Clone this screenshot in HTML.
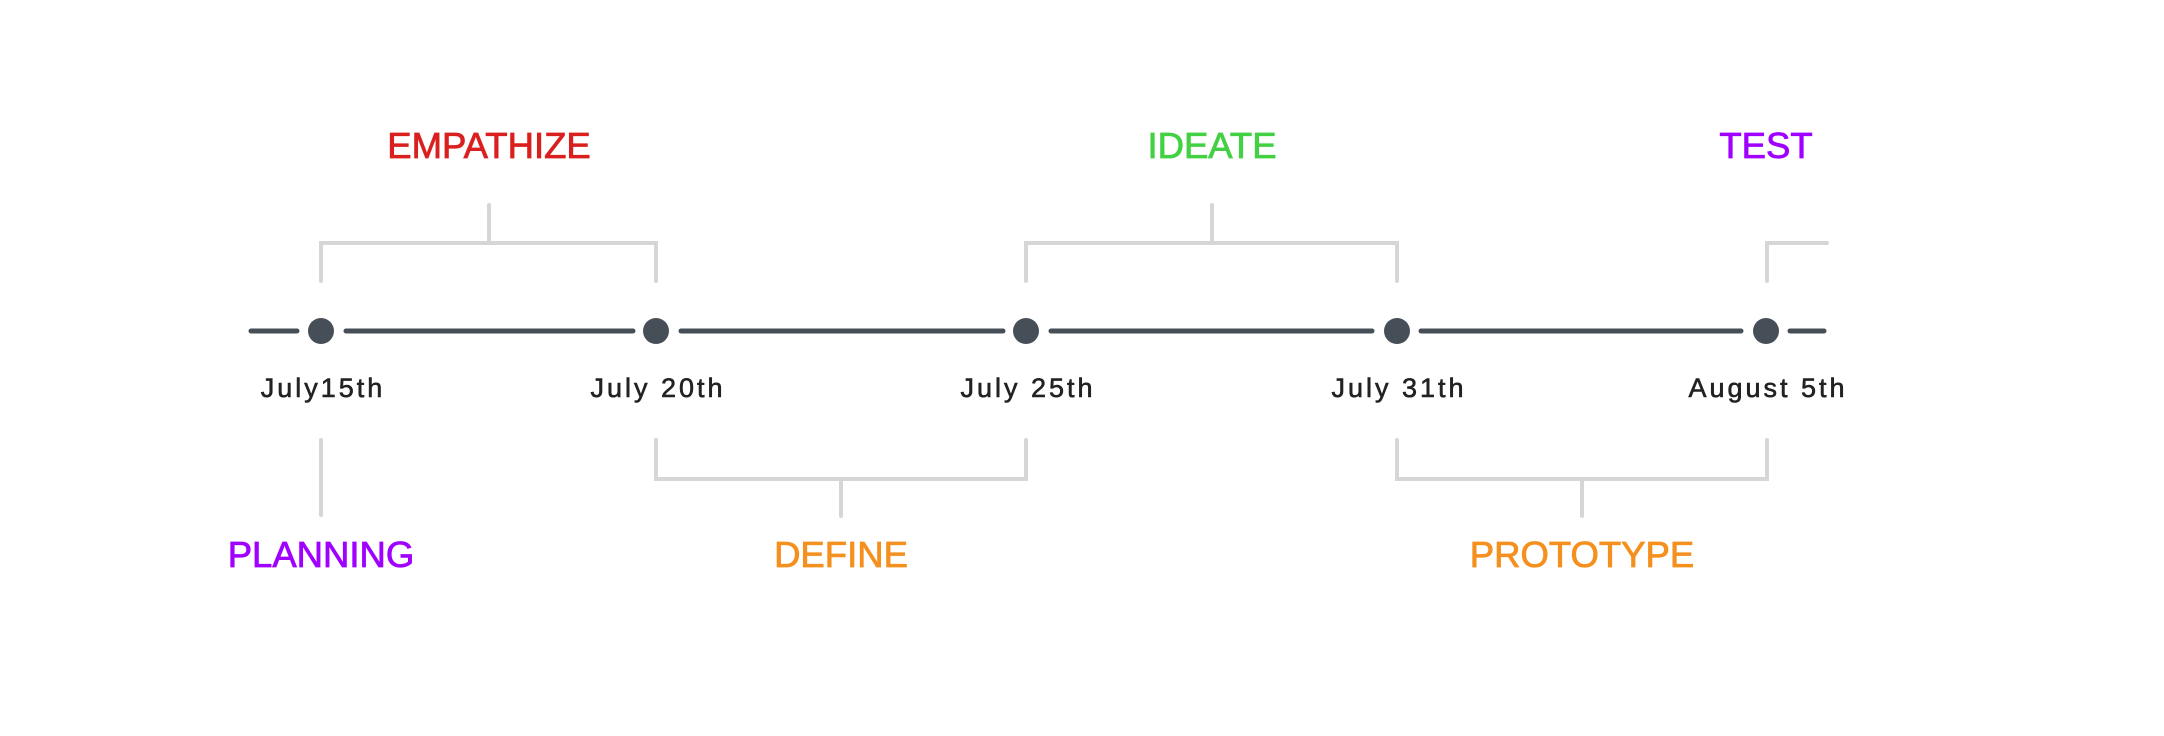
<!DOCTYPE html>
<html><head><meta charset="utf-8"><style>
html,body{margin:0;padding:0;background:#fff;width:2164px;height:736px;overflow:hidden}
svg text{font-family:"Liberation Sans",sans-serif}
</style></head><body>
<svg width="2164" height="736" xmlns="http://www.w3.org/2000/svg">
<g stroke="#d6d6d6" stroke-width="4" fill="none" stroke-linecap="round" stroke-linejoin="miter">
<path d="M321 281 V243 H656 V281 M489 243 V205"/>
<path d="M1026 281 V243 H1397 V281 M1212 243 V205"/>
<path d="M1767 281 V243 H1827"/>
<path d="M321 440 V515"/>
<path d="M656 440 V479 H1026 V440 M841 479 V516"/>
<path d="M1397 440 V479 H1767 V440 M1582 479 V516"/>
</g>
<g stroke="#464f58" stroke-width="5" stroke-linecap="round">
<line x1="251" y1="331" x2="297" y2="331"/>
<line x1="346" y1="331" x2="633" y2="331"/>
<line x1="681" y1="331" x2="1003" y2="331"/>
<line x1="1051" y1="331" x2="1372" y2="331"/>
<line x1="1421" y1="331" x2="1741" y2="331"/>
<line x1="1790" y1="331" x2="1824" y2="331"/>
</g>
<g fill="#464f58">
<circle cx="321" cy="331" r="13"/><circle cx="656" cy="331" r="13"/><circle cx="1026" cy="331" r="13"/><circle cx="1397" cy="331" r="13"/><circle cx="1766" cy="331" r="13"/>
</g>
<g font-size="36.5" text-anchor="middle" stroke-width="0.8">
<text x="489" y="158" fill="#d9201f" stroke="#d9201f">EMPATHIZE</text>
<text x="1212" y="158" fill="#43d143" stroke="#43d143">IDEATE</text>
<text x="1766" y="158" fill="#a000ff" stroke="#a000ff">TEST</text>
<text x="321" y="567" fill="#a000ff" stroke="#a000ff">PLANNING</text>
<text x="841" y="567" fill="#f5901e" stroke="#f5901e">DEFINE</text>
<text x="1582" y="567" fill="#f5901e" stroke="#f5901e">PROTOTYPE</text>
</g>
<g font-size="27" fill="#222" stroke="#222" stroke-width="0.6" letter-spacing="3" text-anchor="middle">
<text x="323" y="397">July15th</text>
<text x="658" y="397">July 20th</text>
<text x="1028" y="397">July 25th</text>
<text x="1399" y="397">July 31th</text>
<text x="1768" y="397">August 5th</text>
</g>
</svg>
</body></html>
